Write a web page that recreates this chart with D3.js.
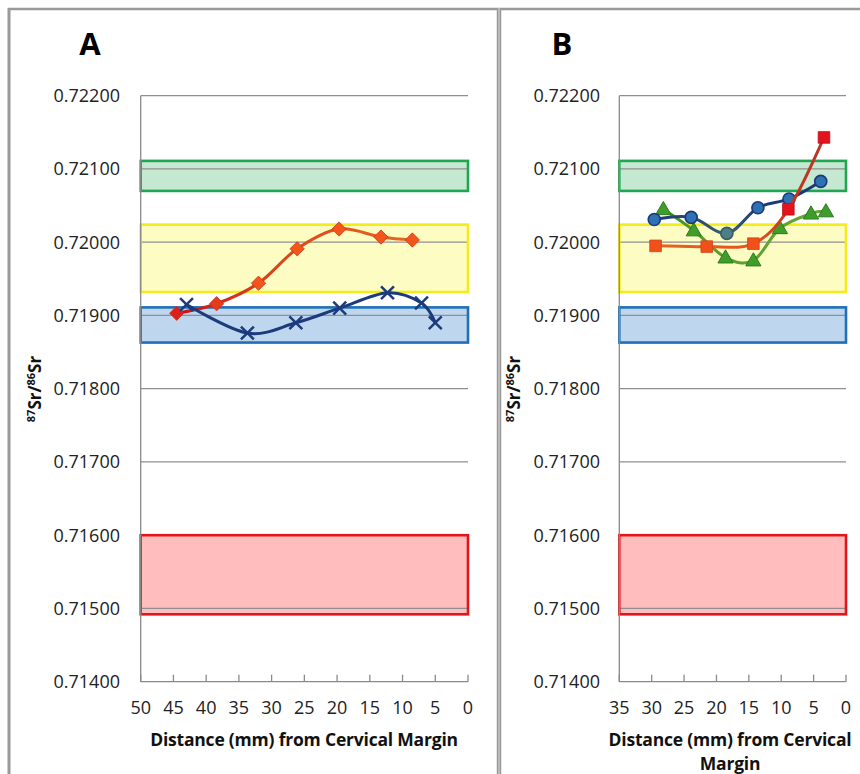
<!DOCTYPE html>
<html><head><meta charset="utf-8">
<script src="https://cdn.jsdelivr.net/npm/d3@7"></script>
<style>body{margin:0;background:#fff}svg{display:block}</style>
</head><body>
<svg id="c" width="860" height="774"></svg>
<script>
// ---- data ----
const yTicks = [0.714, 0.715, 0.716, 0.717, 0.718, 0.719, 0.720, 0.721, 0.722];
const xTicksA = [50, 45, 40, 35, 30, 25, 20, 15, 10, 5, 0];
const xTicksB = [35, 30, 25, 20, 15, 10, 5, 0];
const bandNames = ["green", "yellow", "blue", "red"];
const bandLow  = [0.72070, 0.71932, 0.71863, 0.71492];
const bandHigh = [0.72111, 0.72024, 0.71911, 0.71600];

const a1Dist = [44.5, 38.4, 32.0, 26.1, 19.7, 13.3, 8.5];
const a1Val  = [0.71903, 0.71916, 0.71944, 0.71991, 0.72018, 0.72007, 0.72003];
const a2Dist = [43.0, 33.7, 26.3, 19.6, 12.3, 7.1, 5.0];
const a2Val  = [0.71915, 0.71876, 0.71890, 0.71910, 0.71931, 0.71917, 0.71890];

const bRedDist = [29.4, 21.5, 14.3, 8.9, 3.4];
const bRedVal  = [0.71995, 0.71994, 0.71998, 0.72045, 0.72143];
const bBlueDist = [29.6, 23.9, 18.4, 13.6, 8.8, 3.9];
const bBlueVal  = [0.72031, 0.72034, 0.72012, 0.72047, 0.72059, 0.72083];
const bGreenDist = [28.2, 23.5, 18.6, 14.3, 10.2, 5.4, 3.1];
const bGreenVal  = [0.72045, 0.72016, 0.71979, 0.71975, 0.72019, 0.72039, 0.72042];

// ---- styles ----
const bandStyle = {
  green:  {fill: "#c4e8d0", stroke: "#1ea650"},
  yellow: {fill: "#fdfcc2", stroke: "#f4ec1a"},
  blue:   {fill: "#bed7ee", stroke: "#1f70b6"},
  red:    {fill: "#ffbdbd", stroke: "#e0161b"}
};
const FONT = "'Open Sans', 'DejaVu Sans', sans-serif";

const svg = d3.select("#c");
const defs = svg.append("defs");

// frame
svg.append("line").attr("x1", 9).attr("x2", 9).attr("y1", 8).attr("y2", 774)
  .attr("stroke", "#9a9a9a").attr("stroke-width", 3);
svg.append("line").attr("x1", 8).attr("x2", 860).attr("y1", 9).attr("y2", 9)
  .attr("stroke", "#9a9a9a").attr("stroke-width", 2.5);
svg.append("line").attr("x1", 499).attr("x2", 499).attr("y1", 8).attr("y2", 774)
  .attr("stroke", "#9a9a9a").attr("stroke-width", 4.5);
svg.append("line").attr("x1", 499).attr("x2", 499).attr("y1", 8).attr("y2", 774)
  .attr("stroke", "#d8d8d8").attr("stroke-width", 1);

const y = d3.scaleLinear().domain([0.714, 0.722]).range([681.7, 95.7]);
const fmt = d3.format(".5f");

function panel(opts) {
  const {x, ticks, letter, letterX, labelX, titleX, titleLines, yTitleX} = opts;
  const g = svg.append("g");
  const [x0, x1] = x.range();
  // bands
  bandNames.forEach((n, i) => {
    g.append("rect")
      .attr("x", x0).attr("width", x1 - x0)
      .attr("y", y(bandHigh[i])).attr("height", y(bandLow[i]) - y(bandHigh[i]))
      .attr("fill", bandStyle[n].fill);
  });
  // gridlines
  g.selectAll(".grid").data(yTicks.slice(1)).enter().append("line")
    .attr("x1", x0).attr("x2", x1).attr("y1", d => y(d)).attr("y2", d => y(d))
    .attr("stroke", "#8f8f8f").attr("stroke-width", 1.2);
  bandNames.forEach((n, i) => {
    g.append("rect")
      .attr("x", x0).attr("width", x1 - x0)
      .attr("y", y(bandHigh[i])).attr("height", y(bandLow[i]) - y(bandHigh[i]))
      .attr("fill", "none").attr("stroke", bandStyle[n].stroke).attr("stroke-width", 2.6);
  });
  // y axis
  g.append("line").attr("x1", x0).attr("x2", x0).attr("y1", y(0.722)).attr("y2", y(0.714))
    .attr("stroke", "#8a8a8a").attr("stroke-width", 1.3);
  g.selectAll(".yl").data(yTicks).enter().append("text")
    .attr("x", labelX).attr("y", d => y(d)).attr("dy", "0.36em")
    .attr("text-anchor", "end").attr("font-family", FONT).attr("font-size", 18)
    .attr("fill", "#222").text(d => fmt(d));
  // x axis
  g.append("line").attr("x1", x0).attr("x2", x1).attr("y1", y(0.714)).attr("y2", y(0.714))
    .attr("stroke", "#8a8a8a").attr("stroke-width", 1.3);
  g.selectAll(".xt").data(ticks).enter().append("line")
    .attr("x1", d => x(d)).attr("x2", d => x(d))
    .attr("y1", y(0.714)).attr("y2", y(0.714) - 7)
    .attr("stroke", "#8a8a8a").attr("stroke-width", 1.3);
  g.selectAll(".xl").data(ticks).enter().append("text")
    .attr("x", d => x(d)).attr("y", 714)
    .attr("text-anchor", "middle").attr("font-family", FONT).attr("font-size", 18)
    .attr("fill", "#222").text(d => d);
  // x title
  titleLines.forEach((t, i) => {
    g.append("text").attr("x", titleX).attr("y", 746 + i * 24)
      .attr("text-anchor", "middle").attr("font-family", FONT).attr("font-size", 17.5)
      .attr("font-weight", "bold").attr("fill", "#111").attr("letter-spacing", -0.2).text(t);
  });
  // y title
  const yt = g.append("text").attr("transform", `translate(${yTitleX},389) rotate(-90)`)
    .attr("text-anchor", "middle").attr("font-family", FONT).attr("font-weight", "bold")
    .attr("font-size", 17).attr("fill", "#111");
  yt.append("tspan").attr("font-size", 11).attr("dy", -6).text("87");
  yt.append("tspan").attr("dy", 6).text("Sr/");
  yt.append("tspan").attr("font-size", 11).attr("dy", -6).text("86");
  yt.append("tspan").attr("dy", 6).text("Sr");
  // letter
  g.append("text").attr("x", letterX).attr("y", 55).attr("text-anchor", "middle")
    .attr("font-family", FONT).attr("font-weight", "bold").attr("font-size", 31)
    .attr("fill", "#000").text(letter);
  return g;
}

const xA = d3.scaleLinear().domain([50, 0]).range([140.7, 468]);
const xB = d3.scaleLinear().domain([35, 0]).range([619.3, 846]);

const gA = panel({x: xA, ticks: xTicksA, letter: "A", letterX: 90, labelX: 120,
  titleX: 304, titleLines: ["Distance (mm) from Cervical Margin"], yTitleX: 41});
const gB = panel({x: xB, ticks: xTicksB, letter: "B", letterX: 562, labelX: 600,
  titleX: 730, titleLines: ["Distance (mm) from Cervical", "Margin"], yTitleX: 520});

function grad(id, x1, x2, stops) {
  const lg = defs.append("linearGradient").attr("id", id)
    .attr("gradientUnits", "userSpaceOnUse")
    .attr("x1", x1).attr("x2", x2).attr("y1", 0).attr("y2", 0);
  stops.forEach(([o, c]) => lg.append("stop").attr("offset", o).attr("stop-color", c));
  return `url(#${id})`;
}

function series(g, x, dist, val, stroke, marker) {
  const pts = dist.map((d, i) => [x(d), y(val[i])]);
  const line = d3.line().curve(d3.curveCardinal.tension(0));
  g.append("path").attr("d", line(pts)).attr("fill", "none")
    .attr("stroke", stroke).attr("stroke-width", 3).attr("stroke-linejoin", "round");
  pts.forEach((p, i) => marker(g, p, i, pts.length));
}

const sym = (type, size) => d3.symbol().type(type).size(size)();

// Panel A series
const a1Stroke = grad("ga1", xA(44.5), xA(8.5), [[0, "#c4121c"], [0.35, "#d9401a"], [1, "#e4691f"]]);
const a1Col = d3.interpolateRgb("#dc1f1c", "#f2561a");
series(gA, xA, a1Dist, a1Val, a1Stroke, (g, p, i, n) => {
  g.append("path").attr("d", sym(d3.symbolDiamond2, 130))
    .attr("transform", `translate(${p[0]},${p[1]})`)
    .attr("fill", a1Col(Math.min(1, i / 2))).attr("stroke", "#c9331a").attr("stroke-width", 0.8);
});
series(gA, xA, a2Dist, a2Val, "#1c3b7c", (g, p) => {
  g.append("path").attr("d", sym(d3.symbolTimes, 110))
    .attr("transform", `translate(${p[0]},${p[1]})`)
    .attr("fill", "none").attr("stroke", "#1c3b7c").attr("stroke-width", 2.5);
});

// Panel B series
const bGreenStroke = grad("gbg", xB(28.2), xB(3.1), [[0, "#2f8a24"], [0.2, "#5a9e2c"], [1, "#62a832"]]);
series(gB, xB, bGreenDist, bGreenVal, bGreenStroke, (g, p) => {
  g.append("path").attr("d", sym(d3.symbolTriangle, 100))
    .attr("transform", `translate(${p[0]},${p[1] + 1})`)
    .attr("fill", "#3f9e2a").attr("stroke", "#2d7a1e").attr("stroke-width", 1);
});
const bBlueStroke = grad("gbb", xB(29.6), xB(3.9), [[0, "#1d3a78"], [0.3, "#2f4f6a"], [0.45, "#3d6470"], [0.6, "#1d3a78"], [1, "#1d3a78"]]);
series(gB, xB, bBlueDist, bBlueVal, bBlueStroke, (g, p, i) => {
  g.append("circle").attr("cx", p[0]).attr("cy", p[1]).attr("r", 6)
    .attr("fill", i === 2 ? "#4e7f86" : "#2f72b4").attr("stroke", i === 2 ? "#355f66" : "#1d3a78")
    .attr("stroke-width", 1.7);
});
const bRedStroke = grad("gbr", xB(29.4), xB(3.4), [[0, "#ea6420"], [0.6, "#e0541e"], [0.8, "#c8321c"], [1, "#b53a2a"]]);
series(gB, xB, bRedDist, bRedVal, bRedStroke, (g, p, i, n) => {
  g.append("path").attr("d", sym(d3.symbolSquare, 135))
    .attr("transform", `translate(${p[0]},${p[1]})`)
    .attr("fill", i >= n - 2 ? "#e4141c" : "#f0501a").attr("stroke", i >= n - 2 ? "#b8141a" : "#d2421a")
    .attr("stroke-width", 0.8);
});
</script>
</body></html>
